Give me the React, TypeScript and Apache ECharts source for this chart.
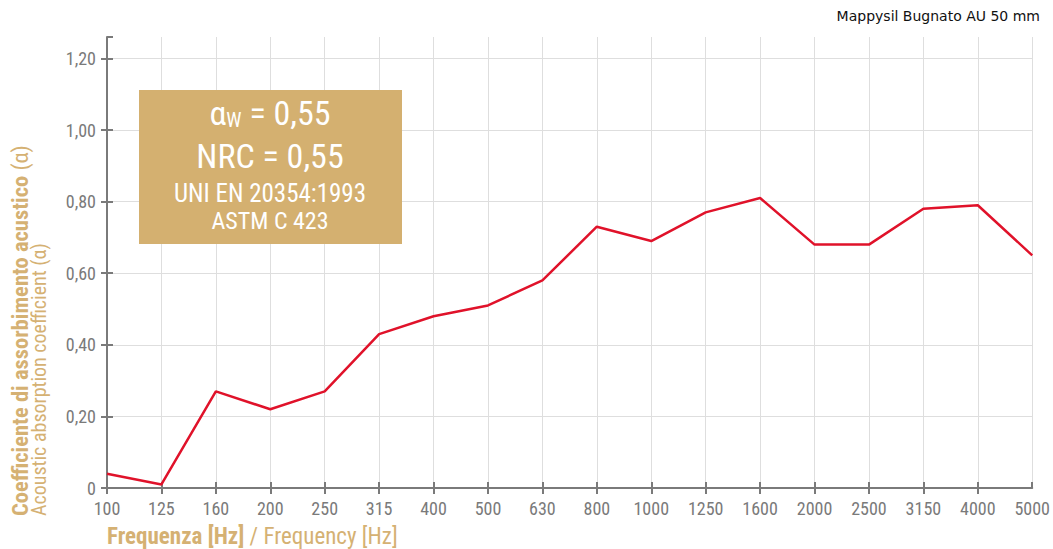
import React, { useEffect, useRef } from "react";
import * as echarts from "echarts";

const frequencies = ["100", "125", "160", "200", "250", "315", "400", "500", "630", "800", "1000", "1250", "1600", "2000", "2500", "3150", "4000", "5000"];
const absorption = [0.04, 0.01, 0.27, 0.22, 0.27, 0.43, 0.48, 0.51, 0.58, 0.73, 0.69, 0.77, 0.81, 0.68, 0.68, 0.78, 0.79, 0.65];
const yTicks = [0, 0.2, 0.4, 0.6, 0.8, 1.0, 1.2];

const TAN = "#d5b173";
const AXIS = "#7a7a7a";
const GRIDC = "#dedede";
const FONT = "'Liberation Sans Narrow', 'Roboto Condensed', Roboto, 'Liberation Sans', sans-serif";

export default function App() {
  const ref = useRef<HTMLDivElement>(null);
  useEffect(() => {
    if (!ref.current) return;
    const chart = echarts.init(ref.current, null, { renderer: "svg" });
    const fmt = (v: number) => (v === 0 ? "0" : v.toFixed(2).replace(".", ","));
    const yBase = {
      type: "value" as const,
      min: 0,
      max: 1.26,
      interval: 0.2,
      position: "left" as const,
    };
    const xBase = {
      type: "category" as const,
      data: frequencies,
      boundaryGap: false,
      position: "bottom" as const,
    };
    chart.setOption({
      animation: false,
      grid: { left: 107, right: 18, top: 37, bottom: 61, containLabel: false },
      xAxis: [
        {
          ...xBase,
          axisLine: { lineStyle: { color: AXIS, width: 2 } },
          axisTick: {
            show: true,
            length: 6,
            lineStyle: { color: AXIS, width: 2 },
            interval: (i: number) => i < frequencies.length - 1,
          },
          axisLabel: { color: AXIS, fontSize: 18, fontFamily: FONT, margin: 11 },
          splitLine: { show: true, lineStyle: { color: GRIDC, width: 1 } },
        },
        {
          ...xBase,
          axisLine: { show: false },
          axisTick: { show: true, inside: true, length: 6, lineStyle: { color: AXIS, width: 2 } },
          axisLabel: { show: false },
          splitLine: { show: false },
        },
      ],
      yAxis: [
        {
          ...yBase,
          axisLine: { show: true, lineStyle: { color: AXIS, width: 2 } },
          axisTick: { show: true, length: 6, lineStyle: { color: AXIS, width: 2 } },
          axisLabel: {
            color: AXIS,
            fontSize: 18,
            fontFamily: FONT,
            margin: 11,
            showMaxLabel: false,
            formatter: (v: number) => (yTicks.some((t) => Math.abs(t - v) < 1e-6) ? fmt(v) : ""),
          },
          splitLine: { show: true, showMaxLine: false, lineStyle: { color: GRIDC, width: 1 } },
        },
        {
          ...yBase,
          axisLine: { show: false },
          axisTick: { show: true, inside: true, length: 6, lineStyle: { color: AXIS, width: 2 } },
          axisLabel: { show: false },
          splitLine: { show: false },
        },
      ],
      series: [
        {
          type: "line",
          data: absorption,
          xAxisIndex: 0,
          yAxisIndex: 0,
          showSymbol: false,
          symbol: "none",
          lineStyle: { color: "#e0122a", width: 2.5 },
          z: 5,
        },
      ],
      graphic: [
        {
          type: "text",
          right: 13,
          top: 9,
          style: {
            text: "Mappysil Bugnato AU 50 mm",
            fontSize: 14,
            fontFamily: "'DejaVu Sans', Verdana, sans-serif",
            fill: "#111",
          },
        },
        {
          type: "rect",
          shape: { x: 139, y: 90, width: 263, height: 154 },
          style: { fill: "#d4b070" },
          z: 10,
        },
        {
          type: "text",
          x: 270,
          y: 113,
          z: 11,
          style: {
            text: "{a|α}{s|W}{a| = 0,55}",
            align: "center",
            verticalAlign: "middle",
            fill: "#fff",
            rich: {
              a: { fontSize: 34, fontFamily: FONT, fill: "#fff" },
              s: { fontSize: 20, fontFamily: FONT, fill: "#fff", padding: [14, 0, 0, 0] },
            },
          },
        },
        {
          type: "text",
          x: 270,
          y: 156,
          z: 11,
          style: { text: "NRC = 0,55", align: "center", verticalAlign: "middle", fontSize: 34, fontFamily: FONT, fill: "#fff" },
        },
        {
          type: "text",
          x: 270,
          y: 193,
          z: 11,
          style: { text: "UNI EN 20354:1993", align: "center", verticalAlign: "middle", fontSize: 25, fontFamily: FONT, fill: "#fff" },
        },
        {
          type: "text",
          x: 270,
          y: 221,
          z: 11,
          style: { text: "ASTM C 423", align: "center", verticalAlign: "middle", fontSize: 24, fontFamily: FONT, fill: "#fff" },
        },
        {
          type: "text",
          x: 107,
          y: 536,
          style: {
            text: "{b|Frequenza [Hz]}{r| / Frequency [Hz]}",
            verticalAlign: "middle",
            rich: {
              b: { fontSize: 23, fontWeight: "bold", fontFamily: FONT, fill: TAN, lineHeight: 24 },
              r: { fontSize: 23, fontFamily: FONT, fill: TAN, lineHeight: 24 },
            },
          },
        },
        {
          type: "text",
          x: 20,
          y: 516,
          rotation: Math.PI / 2,
          style: {
            text: "{b|Coefficiente di assorbimento acustico}{r| (α)}",
            align: "left",
            verticalAlign: "middle",
            rich: {
              b: { fontSize: 22.5, fontWeight: "bold", fontFamily: FONT, fill: TAN },
              r: { fontSize: 22.5, fontFamily: FONT, fill: TAN },
            },
          },
        },
        {
          type: "text",
          x: 39,
          y: 516,
          rotation: Math.PI / 2,
          style: {
            text: "Acoustic absorption coefficient (α)",
            align: "left",
            verticalAlign: "middle",
            fontSize: 20,
            fontFamily: FONT,
            fill: TAN,
          },
        },
      ],
    });
    return () => chart.dispose();
  }, []);
  return <div ref={ref} style={{ width: 1053, height: 549, position: "absolute", left: 0, top: 0 }} />;
}
